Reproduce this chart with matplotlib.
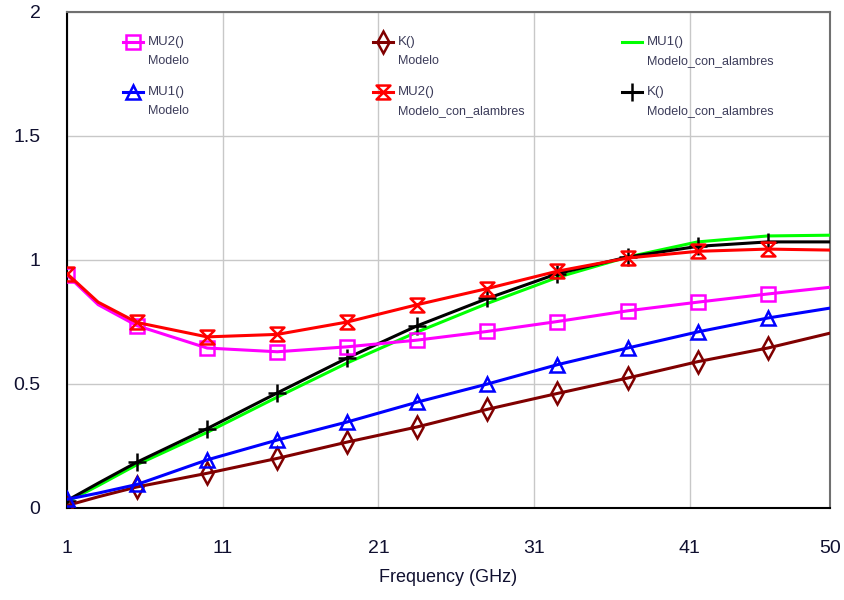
import matplotlib
matplotlib.use("Agg")
import matplotlib.pyplot as plt
from matplotlib.path import Path
from matplotlib.lines import Line2D

plt.rcParams['font.family'] = ['Liberation Sans', 'DejaVu Sans']

# frequency points (GHz) and values
freq = [1, 3, 5.5, 10, 14.5, 19, 23.5, 28, 32.5, 37, 41.5, 46, 50]
mark_idx = [0, 2, 3, 4, 5, 6, 7, 8, 9, 10, 11]

mu2_modelo = [0.94, 0.82, 0.735, 0.645, 0.63, 0.65, 0.677, 0.712, 0.752, 0.795, 0.83, 0.863, 0.89]
k_modelo = [0.01, 0.045, 0.085, 0.14, 0.2, 0.266, 0.327, 0.398, 0.462, 0.524, 0.59, 0.645, 0.705]
mu1_alambres = [0.025, 0.09, 0.175, 0.305, 0.447, 0.585, 0.71, 0.825, 0.93, 1.012, 1.073, 1.097, 1.10]
mu1_modelo = [0.035, 0.06, 0.095, 0.194, 0.274, 0.347, 0.427, 0.50, 0.578, 0.645, 0.71, 0.766, 0.806]
mu2_alambres = [0.945, 0.83, 0.748, 0.69, 0.70, 0.75, 0.82, 0.885, 0.955, 1.008, 1.035, 1.044, 1.04]
k_alambres = [0.03, 0.10, 0.185, 0.32, 0.464, 0.605, 0.735, 0.845, 0.945, 1.012, 1.055, 1.073, 1.073]

x_ticks = [1, 11, 21, 31, 41, 50]
y_ticks = [0, 0.5, 1, 1.5, 2]
y_tick_labels = ["0", "0.5", "1", "1.5", "2"]

# hourglass marker used for MU2() Modelo_con_alambres
hourglass = Path([(-1, 1), (1, 1), (-1, -1), (1, -1), (-1, 1)],
                 [Path.MOVETO, Path.LINETO, Path.LINETO, Path.LINETO, Path.CLOSEPOLY])

# (values, color, marker, msize, name, subname, legend column, legend row)
series = [
    (mu2_modelo, '#ff00ff', 's', 10, 'MU2()', 'Modelo', 0, 0),
    (k_modelo, '#800000', 'd', 11, 'K()', 'Modelo', 1, 0),
    (mu1_alambres, '#00ff00', None, 0, 'MU1()', 'Modelo_con_alambres', 2, 0),
    (mu1_modelo, '#0000ff', '^', 10, 'MU1()', 'Modelo', 0, 1),
    (mu2_alambres, '#ff0000', hourglass, 10, 'MU2()', 'Modelo_con_alambres', 1, 1),
    (k_alambres, '#000000', '+', 13, 'K()', 'Modelo_con_alambres', 2, 1),
]
draw_order = [2, 5, 1, 3, 0, 4]

fig = plt.figure(figsize=(8.45, 6), dpi=100)
ax = fig.add_axes([67 / 845, 1 - 508 / 600, 763 / 845, 496 / 600])

for i in draw_order:
    vals, col, mk, ms, name, sub, c, r = series[i]
    ax.plot(freq, vals, color=col, lw=2.2, marker=mk, markevery=mark_idx,
            markersize=ms, markerfacecolor='none', markeredgecolor=col,
            markeredgewidth=1.8, zorder=3)

# legend drawn by hand: handle aligned with the first line of each label
col_x = [123, 373, 622]
row_y = [42, 92]
for vals, col, mk, ms, name, sub, c, r in series:
    x0 = (col_x[c] - 67) / 763
    x1 = (col_x[c] + 20 - 67) / 763
    y = (508 - row_y[r]) / 496
    ax.add_line(Line2D([x0, x1], [y, y], transform=ax.transAxes, color=col, lw=2.2,
                       clip_on=False, zorder=4))
    if mk is not None:
        ax.add_line(Line2D([(x0 + x1) / 2], [y], transform=ax.transAxes, color=col,
                           marker=mk, markersize=ms, markerfacecolor='none',
                           markeredgewidth=1.8, clip_on=False, zorder=4))
    tx = (col_x[c] + 25 - 67) / 763
    ax.text(tx, y, name, transform=ax.transAxes, fontsize=9.5, color='#3c3c5a',
            va='center', ha='left')
    ax.text(tx, (508 - row_y[r] - 19) / 496, sub, transform=ax.transAxes, fontsize=9,
            color='#3c3c5a', va='center', ha='left')

ax.set_xlim(1, 50)
ax.set_ylim(0, 2)
ax.set_xticks(x_ticks)
ax.set_xticklabels([str(t) for t in x_ticks])
ax.set_yticks(y_ticks)
ax.set_yticklabels(y_tick_labels)
ax.tick_params(length=0, labelsize=14, colors='#101030')
ax.tick_params(axis='x', pad=23)
ax.tick_params(axis='y', pad=19)
ax.grid(True, color='#c8c8c8', lw=1)
ax.set_axisbelow(True)

ax.spines['left'].set_color('black')
ax.spines['bottom'].set_color('black')
ax.spines['left'].set_linewidth(1.5)
ax.spines['bottom'].set_linewidth(1.5)
ax.spines['top'].set_color('#707070')
ax.spines['right'].set_color('#707070')
ax.spines['top'].set_linewidth(1.5)
ax.spines['right'].set_linewidth(1.5)

ax.set_xlabel("Frequency (GHz)", fontsize=13, color='#101030', labelpad=9)

fig.savefig("out.png", dpi=100)
